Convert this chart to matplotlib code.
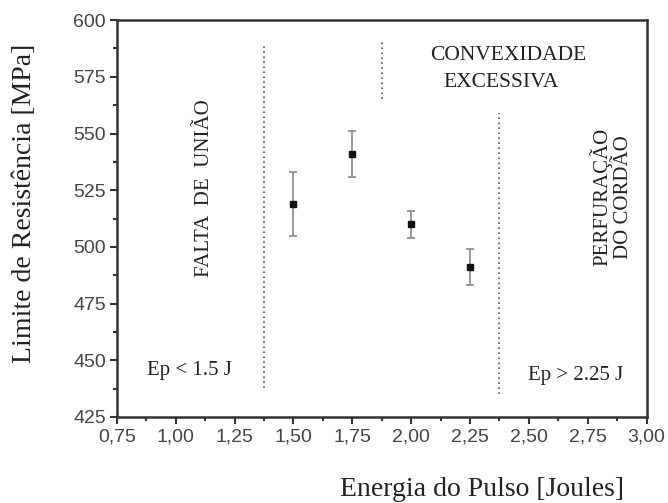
import numpy as np
import matplotlib
matplotlib.use("Agg")
import matplotlib.pyplot as plt
from matplotlib.ticker import MultipleLocator, FuncFormatter

# -------------------------------
# Dados
# -------------------------------
energia = [1.50, 1.75, 2.00, 2.25]
resistencia = [519, 541, 510, 491]
erro = [14, 10, 6, 8]

# limites das regiões (x, y_inicio, y_fim)
lim_x = [1.375, 1.875, 2.375]
lim_y0 = [438, 565, 435]
lim_y1 = [589, 591, 559]

serif = ["Liberation Serif", "DejaVu Serif"]
sans = ["Liberation Sans", "DejaVu Sans"]

fig = plt.figure(figsize=(6.68, 5.03), dpi=100)
ax = fig.add_axes([0.175, 0.171, 0.793, 0.789])

ax.errorbar(energia, resistencia, yerr=erro, fmt="s", color="#111111",
            markersize=5, ecolor="#888888", elinewidth=1.2, capsize=3, capthick=1.2)

for x, y0, y1 in zip(lim_x, lim_y0, lim_y1):
    ax.plot([x, x], [y0, y1], linestyle=(0, (1, 2)), color="#555555", linewidth=1.2)

ax.text(2.414, 584.6, "CONVEXIDADE", family=serif, fontsize=15.5, ha="center", va="center", color="#222222")
ax.text(2.384, 572.7, "EXCESSIVA", family=serif, fontsize=15.5, ha="center", va="center", color="#222222")
ax.text(1.12, 526, "FALTA  DE  UNIÃO", family=serif, fontsize=15, rotation=90,
        ha="center", va="center", color="#222222")
ax.text(2.85, 522, "PERFURAÇÃO\nDO CORDÃO", family=serif, fontsize=15, rotation=90,
        ha="center", va="center", multialignment="center", linespacing=1.15, color="#222222")
ax.text(1.056, 445.5, "Ep < 1.5 J", family=serif, fontsize=15, ha="center", va="center", color="#222222")
ax.text(2.70, 443.5, "Ep > 2.25 J", family=serif, fontsize=15, ha="center", va="center", color="#222222")

ax.set_xlim(0.75, 3.00)
ax.set_ylim(425, 600)
ax.xaxis.set_major_locator(MultipleLocator(0.25))
ax.xaxis.set_minor_locator(MultipleLocator(0.125))
ax.yaxis.set_major_locator(MultipleLocator(25))
ax.yaxis.set_minor_locator(MultipleLocator(12.5))
ax.xaxis.set_major_formatter(FuncFormatter(lambda v, p: f"{v:.2f}".replace(".", ",")))

ax.tick_params(which="both", direction="out", color="#333333", width=1.5,
               top=False, right=False)
ax.tick_params(which="major", length=5, labelsize=14, labelcolor="#444444", pad=3)
ax.tick_params(which="minor", length=3)
for lab in ax.get_xticklabels() + ax.get_yticklabels():
    lab.set_family(sans)

for s in ax.spines.values():
    s.set_color("#333333")
    s.set_linewidth(1.8)

ax.set_xlabel("Energia do Pulso [Joules]", family=serif, fontsize=20, color="#222222")
ax.xaxis.set_label_coords(0.69, -0.15)
ax.set_ylabel("Limite de Resistência [MPa]", family=serif, fontsize=20, color="#222222")
ax.yaxis.set_label_coords(-0.151, 0.538)

plt.savefig("out.png", dpi=100)
